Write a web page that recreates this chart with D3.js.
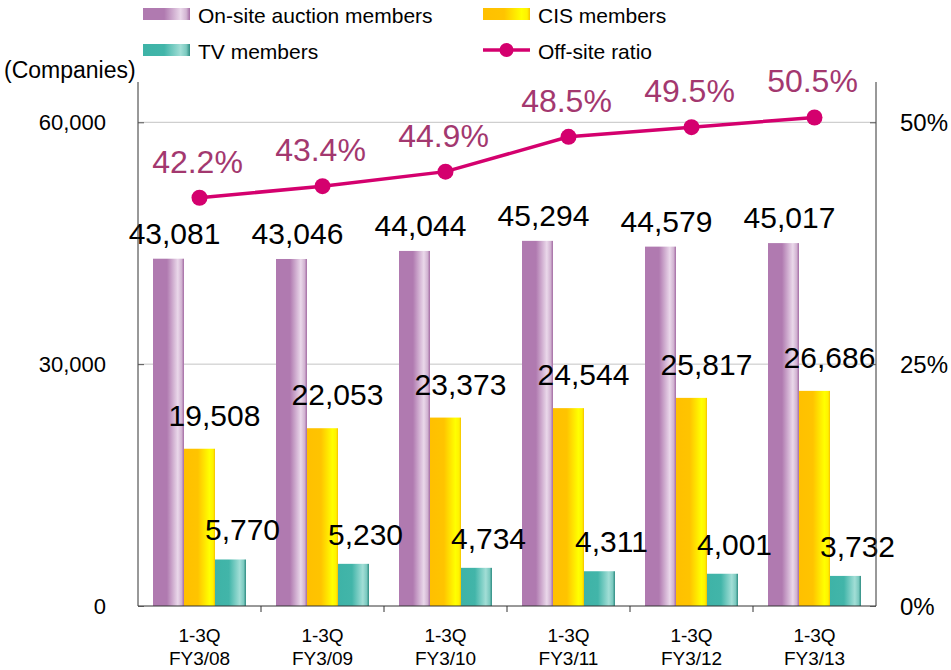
<!DOCTYPE html>
<html>
<head>
<meta charset="utf-8">
<script src="https://cdn.jsdelivr.net/npm/d3@7"></script>
<style>
  body { margin: 0; background: #fff; }
  svg { display: block; font-family: "Liberation Sans", Arial, sans-serif; }
</style>
</head>
<body>
<script>
// data
const periods = ["FY3/08", "FY3/09", "FY3/10", "FY3/11", "FY3/12", "FY3/13"];
const onsite = [43081, 43046, 44044, 45294, 44579, 45017];
const cis = [19508, 22053, 23373, 24544, 25817, 26686];
const tv = [5770, 5230, 4734, 4311, 4001, 3732];
const ratio = [42.2, 43.4, 44.9, 48.5, 49.5, 50.5];
const leftTicks = [0, 30000, 60000];
const rightTicks = [0, 25, 50];

const width = 951, height = 670;
const margin = { top: 82, right: 75, bottom: 64, left: 138 };
const innerW = width - margin.left - margin.right;
const innerH = height - margin.top - margin.bottom;

const svg = d3.select("body").append("svg")
    .attr("width", width)
    .attr("height", height);

// gradients for the "shiny" bars
const defs = svg.append("defs");
function gradient(id, stops) {
  const g = defs.append("linearGradient").attr("id", id)
      .attr("x1", "0%").attr("x2", "100%").attr("y1", "0%").attr("y2", "0%");
  stops.forEach(s => g.append("stop").attr("offset", s[0]).attr("stop-color", s[1]));
}
gradient("gPurple", [["0%", "#b07ab0"], ["45%", "#b07ab0"], ["80%", "#ead8ea"], ["92%", "#d2b4d2"], ["100%", "#a46ca4"]]);
gradient("gYellow", [["0%", "#ffc000"], ["45%", "#ffc400"], ["82%", "#ffff00"], ["94%", "#fff200"], ["100%", "#f5c000"]]);
gradient("gTeal", [["0%", "#3eb3a7"], ["45%", "#42b5a9"], ["80%", "#a2ded6"], ["92%", "#7ccac0"], ["100%", "#2f8c82"]]);

const series = [
  { key: "On-site auction members", values: onsite, fill: "url(#gPurple)", dx: 6, dy: -15 },
  { key: "CIS members", values: cis, fill: "url(#gYellow)", dx: 15, dy: -23 },
  { key: "TV members", values: tv, fill: "url(#gTeal)", dx: 12, dy: -19 }
];

const g = svg.append("g").attr("transform", `translate(${margin.left},${margin.top})`);

const x = d3.scaleBand().domain(periods).range([0, innerW]);
const y = d3.scaleLinear().domain([0, 65000]).range([innerH, 0]);
const yR = d3.scaleLinear().domain([0, 65000 / 1200]).range([innerH, 0]);

// gridlines
g.append("g")
  .selectAll("line")
  .data(leftTicks.filter(d => d > 0))
  .join("line")
    .attr("x1", 0).attr("x2", innerW)
    .attr("y1", d => y(d)).attr("y2", d => y(d))
    .attr("stroke", "#c4c4c4").attr("stroke-width", 1);

// bars
const barW = 31;
series.forEach((s, si) => {
  const off = x.bandwidth() / 2 - 1.5 * barW + si * barW;
  g.append("g")
    .selectAll("rect")
    .data(s.values)
    .join("rect")
      .attr("x", (d, i) => x(periods[i]) + off)
      .attr("y", d => y(d))
      .attr("width", barW)
      .attr("height", d => innerH - y(d))
      .attr("fill", s.fill);

  g.append("g")
    .selectAll("text")
    .data(s.values)
    .join("text")
      .attr("x", (d, i) => x(periods[i]) + off + barW / 2 + s.dx)
      .attr("y", d => y(d) + s.dy)
      .attr("text-anchor", "middle")
      .attr("font-size", 30)
      .attr("fill", "#000")
      .text(d => d3.format(",")(d));
});

// axes
const axisColor = "#333";
g.append("line").attr("x1", 0).attr("x2", 0).attr("y1", 0).attr("y2", innerH)
    .attr("stroke", axisColor);
g.append("line").attr("x1", innerW).attr("x2", innerW).attr("y1", 0).attr("y2", innerH)
    .attr("stroke", axisColor);
g.append("line").attr("x1", 0).attr("x2", innerW).attr("y1", innerH).attr("y2", innerH)
    .attr("stroke", axisColor);

const leftAxis = g.append("g")
    .call(d3.axisRight(y).tickValues(leftTicks).tickSize(6).tickFormat(""));
leftAxis.select(".domain").remove();
leftAxis.selectAll("line").attr("stroke", "#555");

const rightAxis = g.append("g").attr("transform", `translate(${innerW},0)`)
    .call(d3.axisLeft(yR).tickValues(rightTicks).tickSize(6).tickFormat(""));
rightAxis.select(".domain").remove();
rightAxis.selectAll("line").attr("stroke", "#555");

// category separators on the bottom axis
g.append("g")
  .selectAll("line")
  .data(periods.slice(1))
  .join("line")
    .attr("x1", d => x(d)).attr("x2", d => x(d))
    .attr("y1", innerH).attr("y2", innerH + 6)
    .attr("stroke", axisColor);

// tick labels
g.append("g")
  .selectAll("text")
  .data(leftTicks)
  .join("text")
    .attr("x", -32)
    .attr("y", d => y(d) + 8)
    .attr("text-anchor", "end")
    .attr("font-size", 22)
    .text(d => d3.format(",")(d));

g.append("g")
  .selectAll("text")
  .data(rightTicks)
  .join("text")
    .attr("x", innerW + 24)
    .attr("y", d => yR(d) + 9)
    .attr("font-size", 24)
    .text(d => d + "%");

svg.append("text")
    .attr("x", 4).attr("y", 78)
    .attr("font-size", 23)
    .text("(Companies)");

// category labels
const cat = g.append("g")
  .selectAll("text")
  .data(periods)
  .join("text")
    .attr("text-anchor", "middle")
    .attr("font-size", 19)
    .attr("transform", d => `translate(${x(d) + x.bandwidth() / 2},${innerH + 36})`);
cat.append("tspan").attr("x", 0).attr("dy", 0).text("1-3Q");
cat.append("tspan").attr("x", 0).attr("dy", 23).text(d => d);

// ratio line
const lineColor = "#d4006e";
const pts = ratio.map((r, i) => [x(periods[i]) + x.bandwidth() / 2, yR(r)]);
g.append("path")
    .attr("d", d3.line()(pts))
    .attr("fill", "none")
    .attr("stroke", lineColor)
    .attr("stroke-width", 3.5);
g.append("g")
  .selectAll("circle")
  .data(pts)
  .join("circle")
    .attr("cx", d => d[0]).attr("cy", d => d[1])
    .attr("r", 8)
    .attr("fill", lineColor);
g.append("g")
  .selectAll("text")
  .data(ratio)
  .join("text")
    .attr("x", (d, i) => pts[i][0] - 2)
    .attr("y", (d, i) => pts[i][1] - 25)
    .attr("text-anchor", "middle")
    .attr("font-size", 32)
    .attr("fill", "#a3386f")
    .text(d => d.toFixed(1) + "%");

// legend
const legend = svg.append("g");
const legendItems = [
  { key: "On-site auction members", fill: "url(#gPurple)", lx: 143, ly: 8 },
  { key: "CIS members", fill: "url(#gYellow)", lx: 483, ly: 8 },
  { key: "TV members", fill: "url(#gTeal)", lx: 143, ly: 44 },
  { key: "Off-site ratio", line: true, lx: 483, ly: 44 }
];
legendItems.forEach(it => {
  if (it.line) {
    legend.append("line")
        .attr("x1", it.lx).attr("x2", it.lx + 47)
        .attr("y1", it.ly + 6).attr("y2", it.ly + 6)
        .attr("stroke", lineColor).attr("stroke-width", 3.5);
    legend.append("circle")
        .attr("cx", it.lx + 23.5).attr("cy", it.ly + 6).attr("r", 7)
        .attr("fill", lineColor);
  } else {
    legend.append("rect")
        .attr("x", it.lx).attr("y", it.ly)
        .attr("width", 47).attr("height", 12)
        .attr("fill", it.fill);
  }
  legend.append("text")
      .attr("x", it.lx + 55).attr("y", it.ly + 15)
      .attr("font-size", 21)
      .text(it.key);
});
</script>
</body>
</html>
